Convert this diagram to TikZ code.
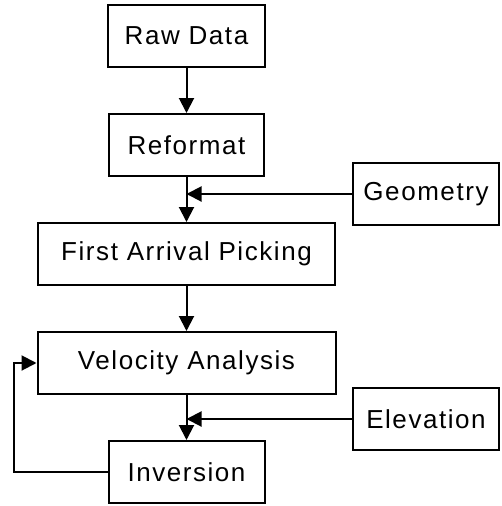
\documentclass[tikz,border=0pt]{standalone}
\usepackage{fontspec}
\setmainfont{Liberation Sans}[LetterSpace=6]
\usetikzlibrary{positioning,arrows.meta}

\begin{document}
\begin{tikzpicture}[x=1pt,y=1pt,node distance=45pt,
  font=\fontsize{26}{30}\selectfont,
  box/.style = {shape=rectangle, draw, line width=2pt, align=center,
    inner sep=0pt, minimum height=62pt},
    link/.style={draw,line width=2pt,-{Triangle[length=15pt,width=15pt]}}
    ]
  \useasboundingbox (0,0) rectangle (501,-506);
  \node[box, minimum width=157pt] (raw) at (186.5,-36) {Raw Data};
  \node[box, minimum width=155pt, below=of raw] (reformat) {Reformat};
  \node[box, minimum width=297pt, below=of reformat] (picking) {First Arrival Picking};
  \node[box, minimum width=298pt, below=of picking] (velocity) {Velocity Analysis};
  \node[box, minimum width=156pt, below=of velocity] (inversion) {Inversion};
  \node[box, minimum width=146pt] (geometry) at (426,-194) {Geometry};
  \node[box, minimum width=146pt] (elevation) at (426,-419) {Elevation};

  \draw[link] (raw) -- (reformat);
  \draw[link] (reformat) -- (picking);
  \draw[link] (picking) -- (velocity);
  \draw[link] (velocity) -- (inversion);
  \draw[link] (geometry.west) -- (geometry.west -| reformat.south);
  \draw[link] (elevation.west) -- (elevation.west -| velocity.south);
  \draw[link] (inversion.west) -- ++(-94,0) |- (velocity.west);
\end{tikzpicture}
\end{document}
